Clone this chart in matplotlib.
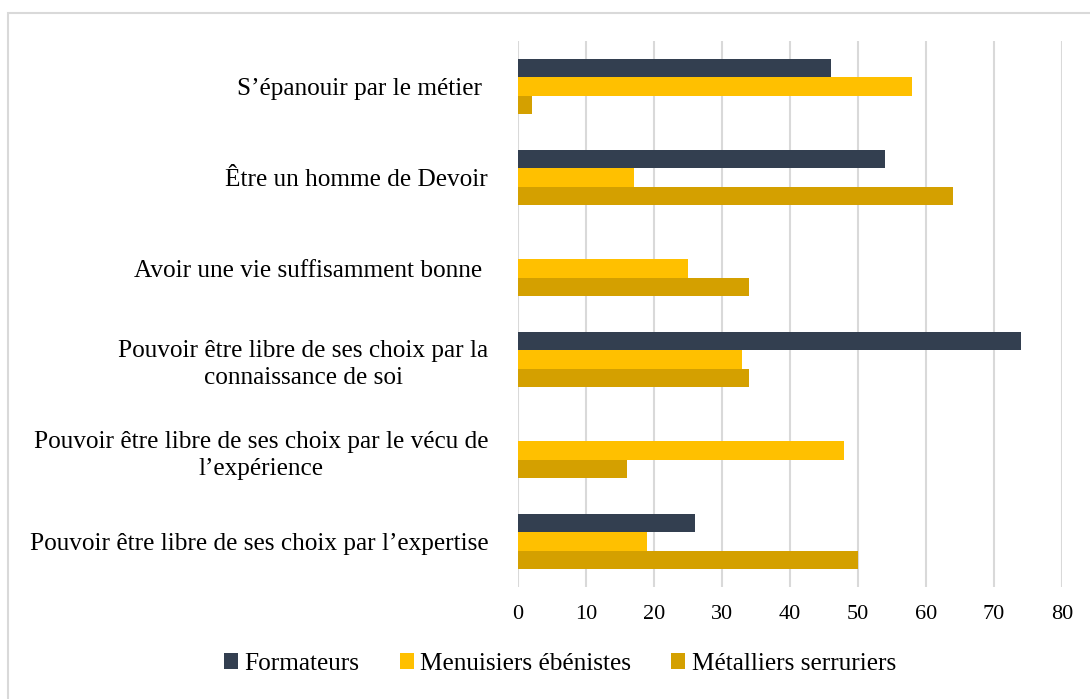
import matplotlib
matplotlib.use("Agg")
import matplotlib.pyplot as plt
from matplotlib.patches import Rectangle
import numpy as np

categories = [
    "S’épanouir par le métier ",
    "Être un homme de Devoir",
    "Avoir une vie suffisamment bonne ",
    "Pouvoir être libre de ses choix par la\nconnaissance de soi",
    "Pouvoir être libre de ses choix par le vécu de\nl’expérience",
    "Pouvoir être libre de ses choix par l’expertise",
]
series_names = ["Formateurs", "Menuisiers ébénistes", "Métalliers serruriers"]
formateurs = [46, 54, 0, 74, 0, 26]
menuisiers = [58, 17, 25, 33, 48, 19]
metalliers = [2, 64, 34, 34, 16, 50]
x_ticks = [0, 10, 20, 30, 40, 50, 60, 70, 80]
colors = ["#333F50", "#FFC000", "#D4A000"]

plt.rcParams['font.family'] = ['Liberation Serif', 'DejaVu Serif']
FONT = 'Liberation Serif'

fig = plt.figure(figsize=(10.9, 6.99), dpi=100)
ax = fig.add_axes([518/1090, 1-587/699, (1062-518)/1090, (587-41)/699])

n = len(categories)
y = np.arange(n)
h = 0.205
for i, (vals, name, c) in enumerate(zip([formateurs, menuisiers, metalliers], series_names, colors)):
    ax.barh(y + (i - 1) * h, vals, height=h, color=c, label=name, zorder=3)

ax.set_ylim(n - 0.5, -0.5)
ax.set_xlim(0, 80)
ax.set_xticks(x_ticks)
ax.set_xticklabels([str(t) for t in x_ticks], fontsize=16, family=FONT)
ax.set_yticks(y)
ax.set_yticklabels(categories, fontsize=18.2, family=FONT, multialignment='center', linespacing=1.3)
ax.tick_params(axis='y', length=0, pad=21.5)
ax.tick_params(axis='x', length=0, pad=13)
for s in ax.spines.values():
    s.set_visible(False)
ax.grid(axis='x', color='#D9D9D9', linewidth=1.5, zorder=0)
ax.set_axisbelow(True)

leg = fig.legend(loc='center', bbox_to_anchor=(560/1090, 1-664/699), ncol=3, frameon=False,
                 prop={'family': FONT, 'size': 18.2}, handlelength=0.55, handleheight=0.55,
                 handletextpad=0.25, columnspacing=1.6)

fig.patches.append(Rectangle((7.5/1090, -0.1), 2, 1 - 12.5/699 + 0.1, transform=fig.transFigure,
                             fill=False, edgecolor='#D9D9D9', linewidth=1.5))

fig.savefig("out.png", dpi=100)
